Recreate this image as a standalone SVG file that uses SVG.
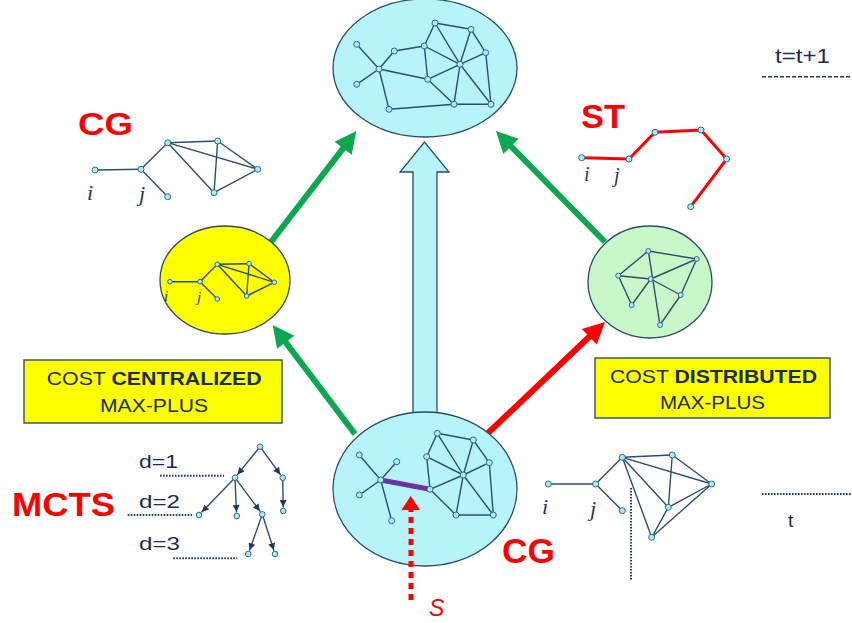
<svg xmlns="http://www.w3.org/2000/svg" width="852" height="623" viewBox="0 0 852 623">
  <style>
    .e { stroke: #2d4d70; stroke-width: 1.4; fill: none; stroke-linecap: round; }
    .n { fill: #a8ecf5; stroke: #2f6a8f; stroke-width: 1; }
    .blob { stroke: #2a4a6a; stroke-width: 1.3; }
    .cyan { fill: #b6f4f9; }
    .lbl { font-family: "Liberation Serif", serif; font-style: italic; fill: #1f3864; }
    .red { font-family: "Liberation Sans", Arial, sans-serif; font-weight: bold; fill: #ff0000; }
    .navy { font-family: "Liberation Sans", Arial, sans-serif; fill: #1a2b55; }
    .dot { stroke: #1f3864; stroke-width: 2; stroke-dasharray: 1.6 1.4; fill: none; }
    .box { fill: #ffff00; stroke: #3b5677; stroke-width: 1.5; }
    .green { stroke: #0aa84f; stroke-width: 6; fill: none; }
    .redline { stroke: #ff0000; stroke-width: 6; fill: none; }
  </style>
  <defs>
    <marker id="headG" viewBox="0 0 10 10" refX="2" refY="5" markerWidth="4" markerHeight="3.6" orient="auto" markerUnits="strokeWidth">
      <path d="M0,0 L10,5 L0,10 z" fill="#0aa84f"/>
    </marker>
    <marker id="headR" viewBox="0 0 10 10" refX="2" refY="5" markerWidth="4" markerHeight="3.6" orient="auto" markerUnits="strokeWidth">
      <path d="M0,0 L10,5 L0,10 z" fill="#ff0000"/>
    </marker>
    <marker id="headT" viewBox="0 0 10 10" refX="10" refY="5" markerWidth="8" markerHeight="7" orient="auto" markerUnits="userSpaceOnUse">
      <path d="M0,0 L10,5 L0,10 z" fill="#1f3864"/>
    </marker>
  </defs>

  <!-- connectors between the coordination-graph views -->
  <g id="connectors">
    <line class="green" x1="271" y1="242" x2="345.8" y2="144.8" marker-end="url(#headG)"/>
    <line class="green" x1="605" y1="242" x2="508" y2="143.3" marker-end="url(#headG)"/>
    <line class="green" x1="355" y1="434" x2="283.1" y2="338.9" marker-end="url(#headG)"/>
    <line class="redline" x1="488" y1="433" x2="592.5" y2="333.8" marker-end="url(#headR)"/>
    <path class="cyan" stroke="#2a4a6a" stroke-width="1.3" d="M413,414 L413,172 L400,172 L424.5,142 L449,172 L437,172 L437,414"/>
  </g>

  <!-- top: full coordination graph at time t+1 -->
  <g id="top-graph">
    <ellipse class="blob cyan" cx="425" cy="68" rx="92" ry="69"/>
    <g class="e">
      <line x1="356.7" y1="44.3" x2="379" y2="69"/>
      <line x1="356.7" y1="84.3" x2="379" y2="69"/>
      <line x1="379" y1="69" x2="394.3" y2="51"/>
      <line x1="394.3" y1="51" x2="424.3" y2="46"/>
      <line x1="379" y1="69" x2="427.7" y2="79.3"/>
      <line x1="379" y1="69" x2="389" y2="109.3"/>
      <line x1="389" y1="109.3" x2="454" y2="104.3"/>
      <line x1="454" y1="104.3" x2="491" y2="104.3"/>
      <line x1="424.3" y1="46" x2="435" y2="23"/>
      <line x1="424.3" y1="46" x2="427.7" y2="79.3"/>
      <line x1="424.3" y1="46" x2="460" y2="64.3"/>
      <line x1="435" y1="23" x2="471" y2="29.3"/>
      <line x1="435" y1="23" x2="460" y2="64.3"/>
      <line x1="460" y1="64.3" x2="491" y2="104.3"/>
      <line x1="471" y1="29.3" x2="485.7" y2="52.7"/>
      <line x1="471" y1="29.3" x2="460" y2="64.3"/>
      <line x1="485.7" y1="52.7" x2="460" y2="64.3"/>
      <line x1="485.7" y1="52.7" x2="491" y2="104.3"/>
      <line x1="460" y1="64.3" x2="427.7" y2="79.3"/>
      <line x1="460" y1="64.3" x2="454" y2="104.3"/>
      <line x1="427.7" y1="79.3" x2="454" y2="104.3"/>
    </g>
    <g class="n">
      <circle cx="356.7" cy="44.3" r="3"/><circle cx="356.7" cy="84.3" r="3"/>
      <circle cx="379" cy="69" r="3"/><circle cx="394.3" cy="51" r="3"/>
      <circle cx="424.3" cy="46" r="3"/><circle cx="435" cy="23" r="3"/>
      <circle cx="471" cy="29.3" r="3"/><circle cx="485.7" cy="52.7" r="3"/>
      <circle cx="460" cy="64.3" r="3"/><circle cx="427.7" cy="79.3" r="3"/>
      <circle cx="389" cy="109.3" r="3"/><circle cx="454" cy="104.3" r="3"/>
      <circle cx="491" cy="104.3" r="3"/>
    </g>
  </g>

  <!-- top right: time step -->
  <g id="time-next">
    <text class="navy" x="775" y="63" font-size="20" textLength="55" lengthAdjust="spacingAndGlyphs">t=t+1</text>
    <line x1="762" y1="76.7" x2="852" y2="76.7" stroke="#1f3864" stroke-width="1.6" stroke-dasharray="4 2"/>
  </g>

  <!-- upper left: CG sub-graph -->
  <g id="cg-left">
    <text class="red" x="78" y="135" font-size="32" textLength="55" lengthAdjust="spacingAndGlyphs">CG</text>
    <g class="e" stroke-width="2">
      <line x1="95" y1="170" x2="141" y2="169.3"/>
      <line x1="141" y1="169.3" x2="167.7" y2="142.7"/>
      <line x1="141" y1="169.3" x2="167.7" y2="196.7"/>
      <line x1="167.7" y1="142.7" x2="217.7" y2="141"/>
      <line x1="167.7" y1="142.7" x2="257.7" y2="169.3"/>
      <line x1="167.7" y1="142.7" x2="214" y2="192.7"/>
      <line x1="217.7" y1="141" x2="214" y2="192.7"/>
      <line x1="217.7" y1="141" x2="257.7" y2="169.3"/>
      <line x1="214" y1="192.7" x2="257.7" y2="169.3"/>
    </g>
    <g class="n">
      <circle cx="95" cy="170" r="3"/><circle cx="141" cy="169.3" r="3"/>
      <circle cx="167.7" cy="196.7" r="3"/><circle cx="167.7" cy="142.7" r="3"/>
      <circle cx="217.7" cy="141" r="3"/><circle cx="257.7" cy="169.3" r="3"/>
      <circle cx="214" cy="192.7" r="3"/>
    </g>
    <text class="lbl" x="87" y="200" font-size="22">i</text>
    <text class="lbl" x="139" y="201" font-size="22">j</text>
  </g>

  <!-- yellow node: centralized coordination graph -->
  <g id="centralized">
    <ellipse class="blob" fill="#ffff00" cx="225" cy="280" rx="65" ry="54"/>
    <g class="e" stroke-width="1.3">
      <line x1="170" y1="281.7" x2="200" y2="281.7"/>
      <line x1="200" y1="281.7" x2="217.3" y2="264.3"/>
      <line x1="200" y1="281.7" x2="217.3" y2="299"/>
      <line x1="217.3" y1="264.3" x2="249" y2="263.7"/>
      <line x1="217.3" y1="264.3" x2="274.3" y2="282.3"/>
      <line x1="217.3" y1="264.3" x2="246.7" y2="296"/>
      <line x1="249" y1="263.7" x2="246.7" y2="296"/>
      <line x1="249" y1="263.7" x2="274.3" y2="282.3"/>
      <line x1="246.7" y1="296" x2="274.3" y2="282.3"/>
    </g>
    <g class="n">
      <circle cx="170" cy="281.7" r="2.3"/><circle cx="200" cy="281.7" r="2.3"/>
      <circle cx="217.3" cy="299" r="2.3"/><circle cx="217.3" cy="264.3" r="2.3"/>
      <circle cx="249" cy="263.7" r="2.3"/><circle cx="274.3" cy="282.3" r="2.3"/>
      <circle cx="246.7" cy="296" r="2.3"/>
    </g>
    <text class="lbl" x="164" y="301" font-size="15">i</text>
    <text class="lbl" x="197" y="302" font-size="15">j</text>
  </g>

  <!-- upper right: ST path -->
  <g id="st-right">
    <text class="red" x="581" y="128" font-size="33" textLength="44" lengthAdjust="spacingAndGlyphs">ST</text>
    <polyline points="581.7,157.7 629,159 655,132.3 701,130 726.7,159 690.7,206.7" fill="none" stroke="#ff0000" stroke-width="3"/>
    <g class="n">
      <circle cx="581.7" cy="157.7" r="3"/><circle cx="629" cy="159" r="3"/>
      <circle cx="655" cy="132.3" r="3"/><circle cx="701" cy="130" r="3"/>
      <circle cx="726.7" cy="159" r="3"/><circle cx="690.7" cy="206.7" r="3"/>
    </g>
    <text class="lbl" x="584" y="181" font-size="20">i</text>
    <text class="lbl" x="614" y="182" font-size="20">j</text>
  </g>

  <!-- green node: distributed coordination graph -->
  <g id="distributed">
    <ellipse class="blob" fill="#c8f7c8" cx="650" cy="282" rx="62" ry="56"/>
    <g class="e" stroke-width="1.3">
      <line x1="648.3" y1="251" x2="696.7" y2="259"/>
      <line x1="648.3" y1="251" x2="618.3" y2="275.7"/>
      <line x1="648.3" y1="251" x2="660" y2="325"/>
      <line x1="696.7" y1="259" x2="650.7" y2="279"/>
      <line x1="696.7" y1="259" x2="680.7" y2="295"/>
      <line x1="618.3" y1="275.7" x2="650.7" y2="279"/>
      <line x1="618.3" y1="275.7" x2="631.7" y2="305"/>
      <line x1="650.7" y1="279" x2="631.7" y2="305"/>
      <line x1="650.7" y1="279" x2="680.7" y2="295"/>
      <line x1="680.7" y1="295" x2="660" y2="325"/>
    </g>
    <g class="n">
      <circle cx="648.3" cy="251" r="2.5"/><circle cx="696.7" cy="259" r="2.5"/>
      <circle cx="618.3" cy="275.7" r="2.5"/><circle cx="650.7" cy="279" r="2.5"/>
      <circle cx="680.7" cy="295" r="2.5"/><circle cx="631.7" cy="305" r="2.5"/>
      <circle cx="660" cy="325" r="2.5"/>
    </g>
  </g>

  <!-- cost boxes -->
  <g id="box-centralized">
    <rect class="box" x="24" y="360" width="258" height="63"/>
    <text class="navy" x="46.7" y="384.5" font-size="18" textLength="215" lengthAdjust="spacingAndGlyphs">COST <tspan font-weight="bold">CENTRALIZED</tspan></text>
    <text class="navy" x="100" y="411.5" font-size="18" textLength="108" lengthAdjust="spacingAndGlyphs">MAX-PLUS</text>
  </g>
  <g id="box-distributed">
    <rect class="box" x="595" y="358" width="235" height="60"/>
    <text class="navy" x="610" y="382.5" font-size="18" textLength="207" lengthAdjust="spacingAndGlyphs">COST <tspan font-weight="bold">DISTRIBUTED</tspan></text>
    <text class="navy" x="660" y="408.5" font-size="18" textLength="105" lengthAdjust="spacingAndGlyphs">MAX-PLUS</text>
  </g>

  <!-- lower left: search tree with depth levels -->
  <g id="mcts">
    <text class="red" x="12" y="516" font-size="34" textLength="103" lengthAdjust="spacingAndGlyphs">MCTS</text>
    <text class="navy" x="139" y="468.3" font-size="19" textLength="39" lengthAdjust="spacingAndGlyphs">d=1</text>
    <text class="navy" x="139" y="507.7" font-size="19" textLength="41" lengthAdjust="spacingAndGlyphs">d=2</text>
    <text class="navy" x="139" y="550" font-size="19" textLength="41" lengthAdjust="spacingAndGlyphs">d=3</text>
    <line class="dot" x1="160" y1="475.7" x2="224" y2="475.7"/>
    <line class="dot" x1="127.7" y1="515" x2="192" y2="515"/>
    <line class="dot" x1="173.3" y1="558.3" x2="237.3" y2="558.3"/>
    <g class="e" stroke-width="1.3" stroke="#1f3864">
      <line x1="260" y1="446.7" x2="237.5" y2="474.6" marker-end="url(#headT)"/>
      <line x1="260" y1="446.7" x2="280.3" y2="474.5" marker-end="url(#headT)"/>
      <line x1="235" y1="477.7" x2="201.8" y2="512.1" marker-end="url(#headT)"/>
      <line x1="235" y1="477.7" x2="236.5" y2="512" marker-end="url(#headT)"/>
      <line x1="235" y1="477.7" x2="259.9" y2="511.1" marker-end="url(#headT)"/>
      <line x1="282.7" y1="477.7" x2="283.2" y2="507" marker-end="url(#headT)"/>
      <line x1="262.3" y1="514.3" x2="249.6" y2="550.2" marker-end="url(#headT)"/>
      <line x1="262.3" y1="514.3" x2="273.8" y2="550.2" marker-end="url(#headT)"/>
    </g>
    <g class="n">
      <circle cx="260" cy="446.7" r="2.8"/><circle cx="235" cy="477.7" r="2.8"/>
      <circle cx="282.7" cy="477.7" r="2.8"/><circle cx="199" cy="515" r="2.8"/>
      <circle cx="236.7" cy="516" r="2.8"/><circle cx="262.3" cy="514.3" r="2.8"/>
      <circle cx="283.3" cy="511" r="2.8"/><circle cx="248.3" cy="554" r="2.8"/>
      <circle cx="275" cy="554" r="2.8"/>
    </g>
  </g>

  <!-- bottom: current coordination graph with selected edge -->
  <g id="bottom-graph">
    <ellipse class="blob cyan" cx="425" cy="489" rx="92" ry="77"/>
    <g class="e">
      <line x1="359.3" y1="455" x2="380.7" y2="480"/>
      <line x1="396.7" y1="461.7" x2="380.7" y2="480"/>
      <line x1="359.3" y1="495" x2="380.7" y2="480"/>
      <line x1="380.7" y1="480" x2="391.7" y2="520.7"/>
      <line x1="430" y1="489.3" x2="426.7" y2="456.7"/>
      <line x1="430" y1="489.3" x2="463.3" y2="475"/>
      <line x1="430" y1="489.3" x2="456" y2="515"/>
      <line x1="426.7" y1="456.7" x2="437.3" y2="433.3"/>
      <line x1="426.7" y1="456.7" x2="463.3" y2="475"/>
      <line x1="437.3" y1="433.3" x2="473.3" y2="440"/>
      <line x1="437.3" y1="433.3" x2="463.3" y2="475"/>
      <line x1="473.3" y1="440" x2="489.3" y2="462.7"/>
      <line x1="473.3" y1="440" x2="463.3" y2="475"/>
      <line x1="489.3" y1="462.7" x2="463.3" y2="475"/>
      <line x1="489.3" y1="462.7" x2="493.3" y2="515"/>
      <line x1="463.3" y1="475" x2="456" y2="515"/>
      <line x1="463.3" y1="475" x2="493.3" y2="515"/>
      <line x1="456" y1="515" x2="493.3" y2="515"/>
    </g>
    <line x1="380.7" y1="480" x2="430" y2="489.3" stroke="#7030a0" stroke-width="5"/>
    <g class="n">
      <circle cx="359.3" cy="455" r="3"/><circle cx="396.7" cy="461.7" r="3"/>
      <circle cx="380.7" cy="480" r="3"/><circle cx="359.3" cy="495" r="3"/>
      <circle cx="391.7" cy="520.7" r="3"/><circle cx="430" cy="489.3" r="3"/>
      <circle cx="426.7" cy="456.7" r="3"/><circle cx="437.3" cy="433.3" r="3"/>
      <circle cx="473.3" cy="440" r="3"/><circle cx="489.3" cy="462.7" r="3"/>
      <circle cx="463.3" cy="475" r="3"/><circle cx="456" cy="515" r="3"/>
      <circle cx="493.3" cy="515" r="3"/>
    </g>
    <text class="red" x="502" y="563" font-size="35" textLength="53" lengthAdjust="spacingAndGlyphs">CG</text>
  </g>

  <!-- selection pointer -->
  <g id="selection">
    <line x1="411" y1="600" x2="411" y2="510" stroke="#ff0000" stroke-width="5" stroke-dasharray="6 5"/>
    <polygon points="401.5,510 420,510 410.7,496" fill="#ff0000"/>
    <text x="429" y="616" font-family="Liberation Sans, Arial, sans-serif" font-style="italic" font-size="23" fill="#ff0000">S</text>
  </g>

  <!-- lower right: agent graph at time t -->
  <g id="graph-t">
    <g class="e">
      <line x1="548.3" y1="484" x2="595.7" y2="484"/>
      <line x1="595.7" y1="484" x2="622.3" y2="457.3"/>
      <line x1="595.7" y1="484" x2="622.3" y2="510.7"/>
      <line x1="622.3" y1="457.3" x2="672.3" y2="455"/>
      <line x1="622.3" y1="457.3" x2="711.7" y2="484"/>
      <line x1="622.3" y1="457.3" x2="668.3" y2="507.3"/>
      <line x1="622.3" y1="457.3" x2="651.7" y2="537.3"/>
      <line x1="672.3" y1="455" x2="668.3" y2="507.3"/>
      <line x1="672.3" y1="455" x2="711.7" y2="484"/>
      <line x1="711.7" y1="484" x2="668.3" y2="507.3"/>
      <line x1="711.7" y1="484" x2="651.7" y2="537.3"/>
      <line x1="668.3" y1="507.3" x2="651.7" y2="537.3"/>
    </g>
    <g class="n">
      <circle cx="548.3" cy="484" r="3"/><circle cx="595.7" cy="484" r="3"/>
      <circle cx="622.3" cy="510.7" r="3"/><circle cx="622.3" cy="457.3" r="3"/>
      <circle cx="672.3" cy="455" r="3"/><circle cx="711.7" cy="484" r="3"/>
      <circle cx="668.3" cy="507.3" r="3"/><circle cx="651.7" cy="537.3" r="3"/>
    </g>
    <line class="dot" x1="631" y1="488" x2="631" y2="580"/>
    <text class="lbl" x="542" y="514" font-size="22">i</text>
    <text class="lbl" x="590" y="516" font-size="22">j</text>
    <line class="dot" x1="762" y1="494" x2="852" y2="494"/>
    <text class="navy" x="788" y="527" font-size="19">t</text>
  </g>
</svg>
